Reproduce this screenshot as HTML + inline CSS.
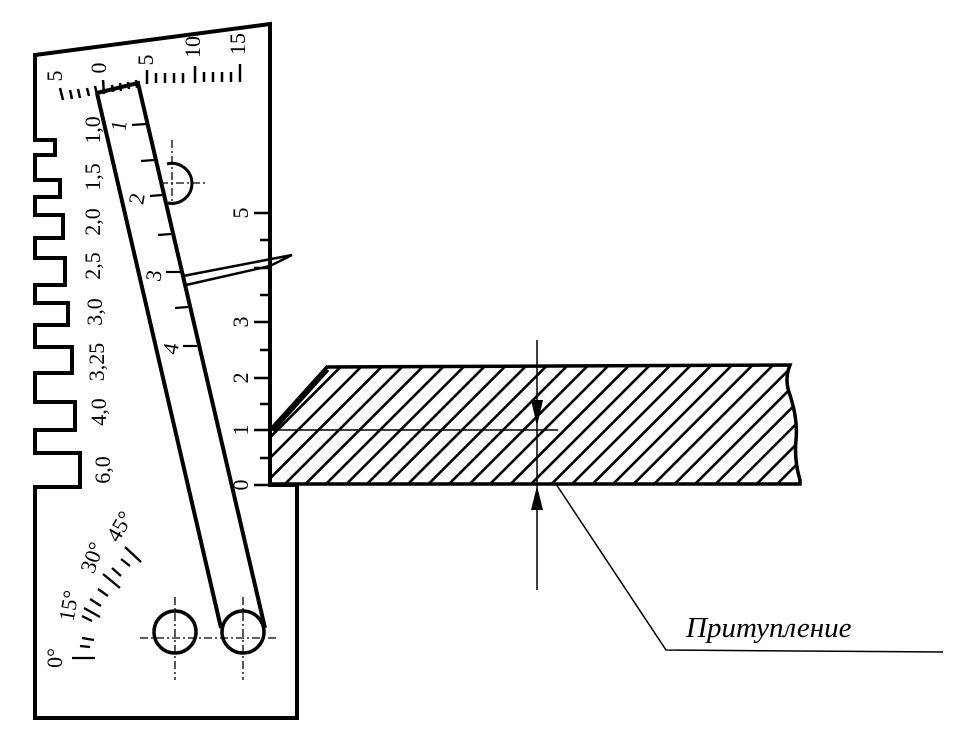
<!DOCTYPE html>
<html><head><meta charset="utf-8"><style>
html,body{margin:0;padding:0;background:#fff;}
svg{display:block}
text{font-family:"Liberation Serif",serif;fill:#000}
</style></head><body>
<svg width="954" height="730" viewBox="0 0 954 730" xmlns="http://www.w3.org/2000/svg">
<defs>
<pattern id="h" patternUnits="userSpaceOnUse" width="14.5" height="14.5" patternTransform="rotate(45)">
<line x1="7.25" y1="0" x2="7.25" y2="14.5" stroke="#000" stroke-width="2.6"/>
</pattern>
<clipPath id="pc"><path d="M270,430 L327,367 L790,365 Q784,380 790,395 Q798,420 796,440 Q794,460 800,480 L800,484 L270,484 Z"/></clipPath>
</defs>
<path d="M35,55 L270,24 L270,485 L297,485 L297,718 L35,718 L35,487 L80,487 L80,453 L35,453 L35,430 L75,430 L75,402 L35,402 L35,373 L72,373 L72,347 L35,347 L35,325 L68,325 L68,303 L35,303 L35,285 L65,285 L65,258 L35,258 L35,238 L63,238 L63,215 L35,215 L35,197 L60,197 L60,180 L35,180 L35,155 L55,155 L55,140 L35,140 Z" fill="none" stroke="#000" stroke-width="4" stroke-linejoin="miter"/>
<g clip-path="url(#pc)"><rect x="260" y="350" width="560" height="150" fill="url(#h)"/></g>
<path d="M270,430 L327,367 L790,365 Q784,380 790,395 Q798,420 796,440 Q794,460 800,480 L800,484 L270,484" fill="none" stroke="#000" stroke-width="3.5"/>
<line x1="272" y1="430" x2="327" y2="369" stroke="#000" stroke-width="6"/>
<line x1="270" y1="430" x2="558" y2="430" stroke="#000" stroke-width="1.5"/>
<line x1="537" y1="340" x2="537" y2="590" stroke="#000" stroke-width="1.5"/>
<path d="M531,400 L543,400 L537,426 Z"/>
<path d="M531,510 L543,510 L537,486 Z"/>
<polyline points="556,484 666,650 943,652" fill="none" stroke="#000" stroke-width="1.5"/>
<text x="686" y="637" font-size="29" font-style="italic">Притупление</text>
<g stroke="#000" stroke-width="2.5">
<line x1="254" y1="213" x2="270" y2="213"/><line x1="260" y1="240" x2="270" y2="240"/>
<line x1="254" y1="268" x2="270" y2="268"/><line x1="260" y1="295" x2="270" y2="295"/>
<line x1="254" y1="322" x2="270" y2="322"/><line x1="260" y1="350" x2="270" y2="350"/>
<line x1="254" y1="378" x2="270" y2="378"/><line x1="260" y1="404" x2="270" y2="404"/>
<line x1="254" y1="430" x2="270" y2="430"/><line x1="260" y1="458" x2="270" y2="458"/>
<line x1="254" y1="485" x2="270" y2="485"/>
</g>
<g font-size="22">
<text transform="translate(248,213) rotate(-90)" text-anchor="middle">5</text>
<text transform="translate(248,322) rotate(-90)" text-anchor="middle">3</text>
<text transform="translate(248,378) rotate(-90)" text-anchor="middle">2</text>
<text transform="translate(248,430) rotate(-90)" text-anchor="middle">1</text>
<text transform="translate(248,485) rotate(-90)" text-anchor="middle">0</text>
</g>
<path d="M183,276 L292,255 L270,266 L186,285 Z" fill="none" stroke="#000" stroke-width="2.5" stroke-linejoin="miter"/>
<path d="M167,164 A20,20 0 1,1 168,203" fill="none" stroke="#000" stroke-width="3"/>
<g stroke="#000" stroke-width="1.3" stroke-dasharray="8,3,2,3">
<line x1="172" y1="140" x2="172" y2="205"/><line x1="160" y1="183" x2="205" y2="183"/>
</g>
<path d="M97,93 L138,83 L265,628 M97,93 L221,628" fill="none" stroke="#000" stroke-width="4"/>
<g stroke="#000" stroke-width="2.2">
<line x1="132" y1="125" x2="146" y2="124"/><line x1="141" y1="161" x2="154" y2="160"/>
<line x1="150" y1="196" x2="162" y2="195"/><line x1="158" y1="235" x2="171" y2="234"/>
<line x1="166" y1="272" x2="180" y2="272"/><line x1="175" y1="308" x2="188" y2="307"/>
<line x1="183" y1="346" x2="197" y2="346"/>
</g>
<g font-size="22">
<text transform="translate(126,127) rotate(-80)" text-anchor="middle">1</text>
<text transform="translate(144,200) rotate(-80)" text-anchor="middle">2</text>
<text transform="translate(161,277) rotate(-80)" text-anchor="middle">3</text>
<text transform="translate(178,350) rotate(-80)" text-anchor="middle">4</text>
</g>
<circle cx="175" cy="632" r="21" fill="none" stroke="#000" stroke-width="3.5"/>
<circle cx="243" cy="632" r="21" fill="#fff" stroke="#000" stroke-width="3.5"/>
<g stroke="#000" stroke-width="1.3" stroke-dasharray="8,3,2,3">
<line x1="140" y1="638" x2="278" y2="638"/>
<line x1="175" y1="597" x2="175" y2="680"/><line x1="243" y1="597" x2="243" y2="680"/>
</g>
<g stroke="#000" stroke-width="2.5">
<line x1="63" y1="100" x2="60" y2="88"/><line x1="72" y1="99" x2="70" y2="90"/>
<line x1="80" y1="98" x2="78" y2="89"/><line x1="89" y1="96" x2="87" y2="88"/>
<line x1="97" y1="95" x2="95" y2="86"/><line x1="104" y1="94" x2="103" y2="80"/>
<line x1="113" y1="92" x2="112" y2="85"/><line x1="121" y1="91" x2="120" y2="83"/>
<line x1="129" y1="89" x2="128" y2="82"/><line x1="137" y1="88" x2="136" y2="80"/>
<line x1="147" y1="84" x2="147" y2="70"/>
<line x1="156" y1="83" x2="156" y2="73"/><line x1="165" y1="83" x2="165" y2="73"/>
<line x1="174" y1="83" x2="174" y2="73"/><line x1="183" y1="83" x2="183" y2="73"/>
<line x1="195" y1="83" x2="195" y2="66"/>
<line x1="204" y1="82" x2="204" y2="72"/><line x1="213" y1="82" x2="213" y2="72"/>
<line x1="222" y1="82" x2="222" y2="72"/><line x1="231" y1="82" x2="231" y2="72"/>
<line x1="240" y1="82" x2="240" y2="64"/>
</g>
<g font-size="22">
<text transform="translate(62,76) rotate(-90)" text-anchor="middle">5</text>
<text transform="translate(106,68) rotate(-90)" text-anchor="middle">0</text>
<text transform="translate(153,60) rotate(-90)" text-anchor="middle">5</text>
<text transform="translate(200,47) rotate(-90)" text-anchor="middle">10</text>
<text transform="translate(245,44) rotate(-90)" text-anchor="middle">15</text>
</g>
<g font-size="22">
<text transform="translate(100,130) rotate(-90)" text-anchor="middle">1,0</text>
<text transform="translate(100,177) rotate(-90)" text-anchor="middle">1,5</text>
<text transform="translate(100,222) rotate(-90)" text-anchor="middle">2,0</text>
<text transform="translate(100,266) rotate(-90)" text-anchor="middle">2,5</text>
<text transform="translate(102,312) rotate(-90)" text-anchor="middle">3,0</text>
<text transform="translate(104,362) rotate(-90)" text-anchor="middle">3,25</text>
<text transform="translate(106,412) rotate(-90)" text-anchor="middle">4,0</text>
<text transform="translate(110,470) rotate(-90)" text-anchor="middle">6,0</text>
</g>
<g stroke="#000" stroke-width="2.3">
<line x1="72" y1="658" x2="95" y2="658"/><line x1="80" y1="646" x2="90" y2="647"/>
<line x1="82" y1="638" x2="94" y2="640"/><line x1="82" y1="616" x2="92" y2="621"/>
<line x1="84" y1="608" x2="100" y2="617"/><line x1="90" y1="599" x2="101" y2="606"/>
<line x1="98" y1="589" x2="108" y2="596"/><line x1="103" y1="574" x2="120" y2="588"/>
<line x1="112" y1="568" x2="121" y2="576"/><line x1="121" y1="559" x2="130" y2="566"/>
<line x1="125" y1="547" x2="141" y2="562"/>
</g>
<g font-size="22">
<text transform="translate(62,658) rotate(-90)" text-anchor="middle">0°</text>
<text transform="translate(76,607) rotate(-80)" text-anchor="middle">15°</text>
<text transform="translate(99,560) rotate(-70)" text-anchor="middle">30°</text>
<text transform="translate(126,530) rotate(-60)" text-anchor="middle">45°</text>
</g>
</svg>
</body></html>
